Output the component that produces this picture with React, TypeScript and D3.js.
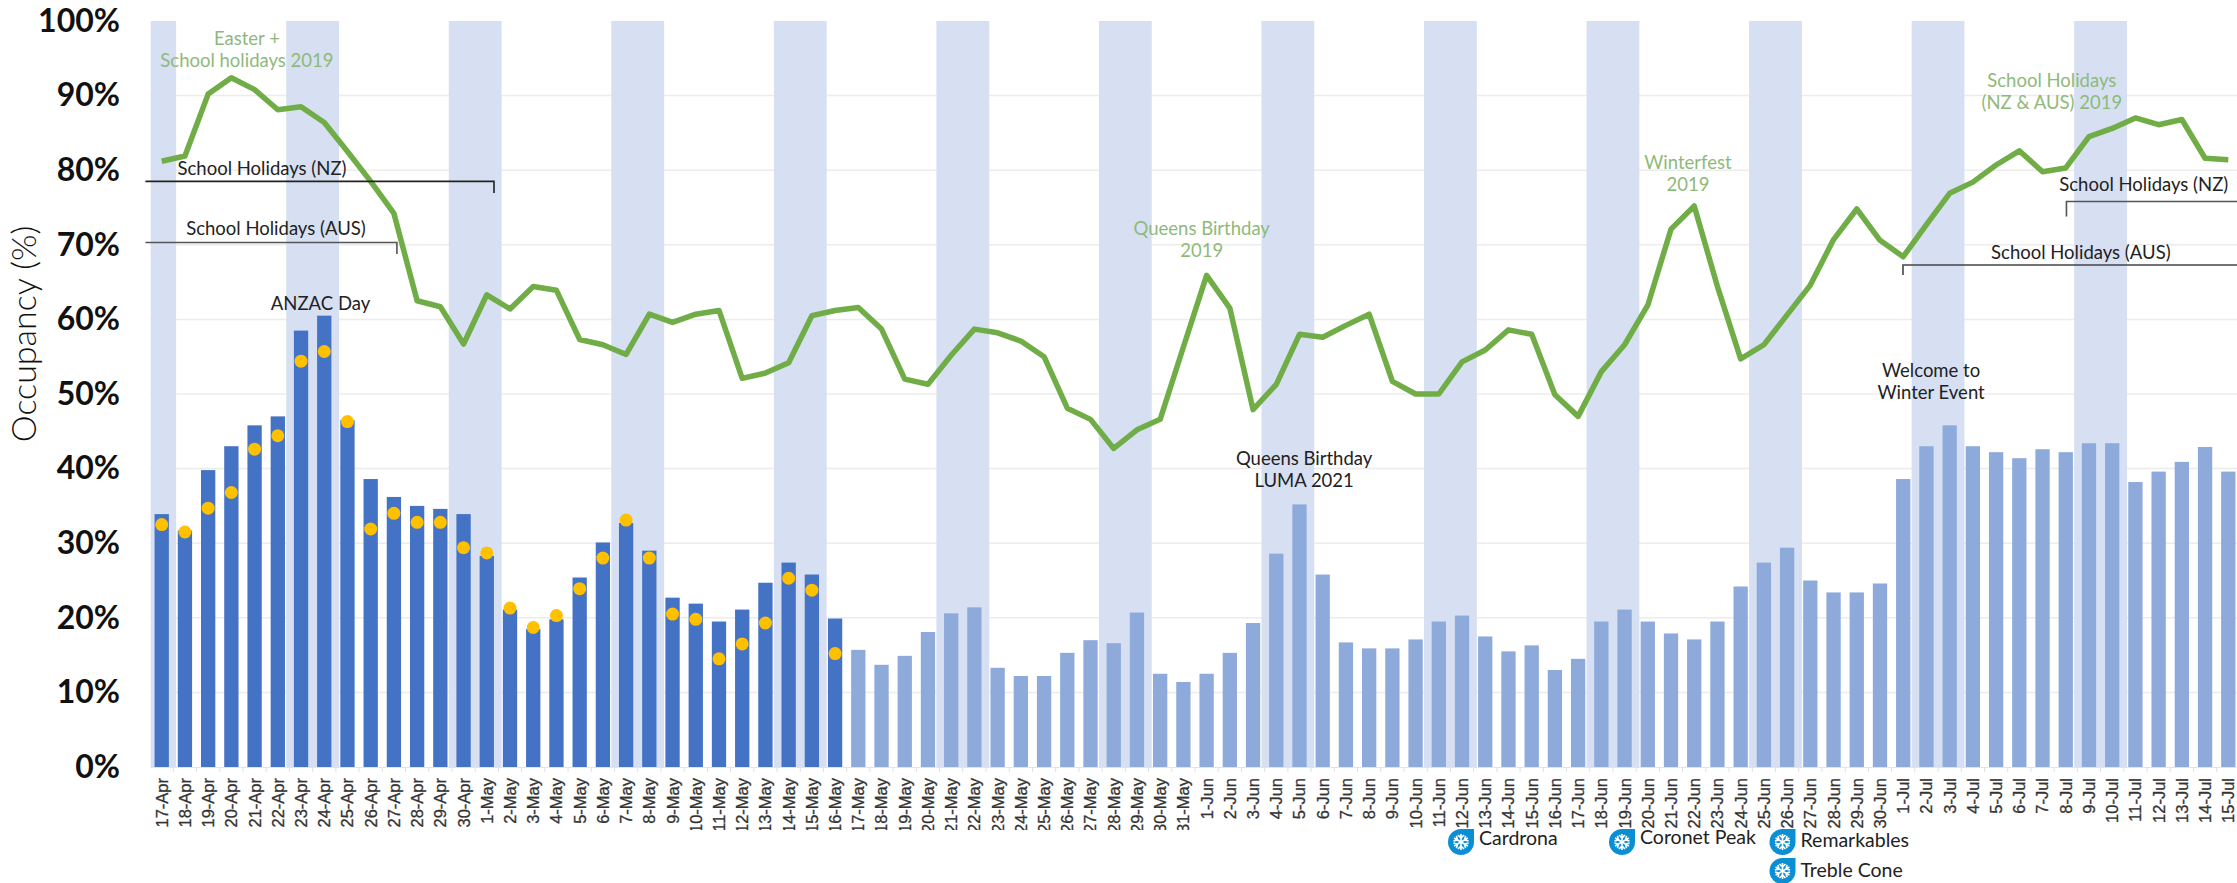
import { useEffect, useRef } from "react";
import * as d3 from "d3";

const WIDTH = 2237;
const HEIGHT = 883;

const MONTHS = [
  { name: "Apr", from: 17, to: 30 },
  { name: "May", from: 1, to: 31 },
  { name: "Jun", from: 1, to: 30 },
  { name: "Jul", from: 1, to: 15 },
];
const days: string[] = MONTHS.flatMap((m) =>
  d3.range(m.from, m.to + 1).map((d) => `${d}-${m.name}`)
);

// bar heights, one per day
const occupancy2021 = [
  33.9, 31.7, 39.8, 43, 45.8, 47, 58.5, 60.5, 46.5, 38.6, 36.2, 35, 34.6, 33.9,
  28.3, 21.1, 18.5, 19.8, 25.4, 30.1, 32.7, 29, 22.7, 21.9, 19.5, 21.1, 24.7, 27.4, 25.8, 19.9,
  15.7, 13.7, 14.9, 18.1, 20.6, 21.4, 13.3, 12.2, 12.2, 15.3, 17, 16.6, 20.7, 12.5, 11.4,
  12.5, 15.3, 19.3, 28.6, 35.2, 25.8, 16.7, 15.9, 15.9, 17.1, 19.5, 20.3, 17.5, 15.5, 16.3,
  13, 14.5, 19.5, 21.1, 19.5, 17.9, 17.1, 19.5, 24.2, 27.4, 29.4, 25, 23.4, 23.4, 24.6,
  38.6, 43, 45.8, 43, 42.2, 41.4, 42.6, 42.2, 43.4, 43.4, 38.2, 39.6, 40.9, 42.9, 39.6,
];
// bars up to this index are actuals (dark), the rest are on the books (light)
const ACTUAL_COUNT = 30;

// yellow dots, only for the actual days
const dotValues = [
  32.5, 31.5, 34.7, 36.8, 42.6, 44.4, 54.4, 55.7, 46.3, 31.9, 34, 32.8, 32.8, 29.4,
  28.7, 21.3, 18.7, 20.3, 23.9, 28, 33.1, 28, 20.5, 19.8, 14.5, 16.5, 19.3, 25.3, 23.7, 15.2,
];

// green line
const occupancy2019 = [
  81.2, 81.9, 90.2, 92.4, 90.8, 88.1, 88.5, 86.4, 82.5, 78.5, 74.2, 62.5, 61.7, 56.7,
  63.3, 61.4, 64.4, 63.9, 57.3, 56.6, 55.3, 60.7, 59.6, 60.7, 61.2, 52.1, 52.8, 54.2, 60.5, 61.2,
  61.6, 58.7, 52, 51.3, 55.2, 58.7, 58.2, 57.1, 55, 48.1, 46.6, 42.7, 45.2, 46.6, 56.3,
  65.9, 61.5, 47.9, 51.3, 58, 57.6, 59.2, 60.7, 51.7, 50, 50, 54.3, 55.9, 58.6, 58,
  49.9, 47, 53, 56.6, 61.9, 72.1, 75.2, 64.4, 54.7, 56.6, 60.6, 64.6, 70.7, 74.8, 70.6,
  68.4, 72.7, 76.9, 78.4, 80.7, 82.6, 79.8, 80.3, 84.5, 85.6, 87, 86.1, 86.8, 81.6, 81.4,
];

const yTicks = [0, 10, 20, 30, 40, 50, 60, 70, 80, 90, 100];
const gridTicks = [10, 20, 30, 40, 50, 60, 70, 80, 90];

// shaded weekends, named by their first day
const weekendStarts = [
  "23-Apr", "30-Apr", "7-May", "14-May", "21-May", "28-May",
  "4-Jun", "11-Jun", "18-Jun", "25-Jun", "2-Jul", "9-Jul",
];

// notes sit in chart units: day index across, occupancy up
const greenNotes = [
  { lines: ["Easter +", "School holidays 2019"], day: 3.67, occ: 97.6 },
  { lines: ["Queens Birthday", "2019"], day: 44.79, occ: 72.2 },
  { lines: ["Winterfest", "2019"], day: 65.73, occ: 81 },
  { lines: ["School Holidays", "(NZ & AUS)  2019"], day: 81.4, occ: 92 },
];
const darkNotes = [
  { lines: ["School Holidays (NZ)"], day: 4.32, occ: 80.2 },
  { lines: ["School Holidays (AUS)"], day: 4.92, occ: 72.2 },
  { lines: ["ANZAC Day"], day: 6.84, occ: 62.1 },
  { lines: ["Queens Birthday", "LUMA 2021"], day: 49.2, occ: 41.3 },
  { lines: ["Welcome to", "Winter Event"], day: 76.2, occ: 53.1 },
  { lines: ["School Holidays (NZ)"], day: 85.36, occ: 78.1 },
  { lines: ["School Holidays (AUS)"], day: 82.65, occ: 68.9 },
];

const holidayBrackets = [
  { from: -0.7, to: 14.31, occ: 78.5, tickAt: "end", tick: 11.5, color: "#222" },
  { from: -0.7, to: 10.13, occ: 70.3, tickAt: "end", tick: 11.5, color: "#555" },
  { from: 82.03, to: 91, occ: 75.8, tickAt: "start", tick: 15, color: "#555" },
  { from: 74.99, to: 91, occ: 67.3, tickAt: "start", tick: 10, color: "#444" },
];

const skiFields = [
  { name: "Cardrona", x: 1461, y: 842, textY: 838 },
  { name: "Coronet Peak", x: 1622, y: 842, textY: 837 },
  { name: "Remarkables", x: 1782.5, y: 842, textY: 840 },
  { name: "Treble Cone", x: 1782.5, y: 871, textY: 870 },
];

const COLORS = {
  actual: "#4472c4",
  booked: "#8eaadb",
  band: "#d6e0f2",
  grid: "#ececec",
  line: "#70ad47",
  dot: "#ffc000",
  greenText: "#8fb97b",
  darkText: "#222",
  icon: "#0b8fd4",
};

const NOTE_FONT = "Lato, 'Open Sans', sans-serif";
const NOTE_LINE = 21.8;

export default function App() {
  const svgRef = useRef<SVGSVGElement>(null);

  useEffect(() => {
    if (!svgRef.current) return;
    const svg = d3.select(svgRef.current);
    svg.selectAll("*").remove();

    const x = d3.scaleBand().domain(days).range([150.1, 2239.9]).paddingInner(0.384).paddingOuter(0.192);
    const y = d3.scaleLinear().domain([0, 100]).range([767, 21]);
    const step = x.step();
    const center = (d: string) => (x(d) ?? 0) + x.bandwidth() / 2;
    const dayX = d3.scaleLinear().domain([0, days.length - 1]).range([center(days[0]), center(days[days.length - 1])]);

    // gridlines first, bands go over them
    svg.append("g")
      .selectAll("line")
      .data(gridTicks)
      .join("line")
      .attr("x1", x.range()[0])
      .attr("x2", WIDTH)
      .attr("y1", (d) => y(d))
      .attr("y2", (d) => y(d))
      .attr("stroke", COLORS.grid)
      .attr("stroke-width", 1.5);

    const bands = svg.append("g");
    bands.append("rect")
      .attr("x", x.range()[0] + 0.6)
      .attr("y", y(100))
      .attr("width", center(days[0]) + 14.4 - x.range()[0] - 0.6)
      .attr("height", y(0) - y(100))
      .attr("fill", COLORS.band);
    bands.selectAll("rect.weekend")
      .data(weekendStarts)
      .join("rect")
      .attr("class", "weekend")
      .attr("x", (d) => center(d) - 14.8)
      .attr("y", y(100))
      .attr("width", step + 29.6)
      .attr("height", y(0) - y(100))
      .attr("fill", COLORS.band);

    // bars
    svg.append("g")
      .selectAll("rect")
      .data(occupancy2021)
      .join("rect")
      .attr("x", (_, i) => x(days[i]) ?? 0)
      .attr("y", (d) => y(d))
      .attr("width", x.bandwidth())
      .attr("height", (d) => y(0) - y(d))
      .attr("fill", (_, i) => (i < ACTUAL_COUNT ? COLORS.actual : COLORS.booked));

    // x axis, labels clipped the way the screenshot cuts them
    svg.append("clipPath")
      .attr("id", "tick-clip")
      .append("rect")
      .attr("x", 0)
      .attr("y", -2)
      .attr("width", WIDTH)
      .attr("height", 65);

    const xAxis = svg.append("g")
      .attr("transform", `translate(0,${y(0)})`)
      .attr("clip-path", "url(#tick-clip)")
      .call(d3.axisBottom(x).tickSize(5).tickSizeOuter(0));
    xAxis.select(".domain").attr("stroke", "#e4e4e4").attr("stroke-width", 1);
    xAxis.selectAll(".tick line").attr("x1", step / 2).attr("x2", step / 2).attr("stroke", "#e0e0e0");
    xAxis.selectAll(".tick text")
      .attr("transform", "rotate(-90)")
      .attr("text-anchor", "end")
      .attr("x", -11)
      .attr("y", 0)
      .attr("dy", "0.36em")
      .attr("font-family", "'Liberation Sans', Arial, sans-serif")
      .attr("font-size", 16.5)
      .attr("fill", "#333")
      .attr("stroke", "#333")
      .attr("stroke-width", 0.3);

    // y axis
    const yAxis = svg.append("g")
      .attr("transform", "translate(120,0)")
      .call(d3.axisLeft(y).tickValues(yTicks).tickSize(0).tickPadding(0).tickFormat((d) => `${d}%`));
    yAxis.select(".domain").remove();
    yAxis.selectAll(".tick text")
      .attr("font-family", "Lato, sans-serif")
      .attr("font-weight", 700)
      .attr("font-size", 32)
      .attr("fill", "#111");

    svg.append("text")
      .attr("transform", "translate(24,334) rotate(-90)")
      .attr("text-anchor", "middle")
      .attr("dy", "0.35em")
      .attr("font-family", NOTE_FONT)
      .attr("font-weight", 300)
      .attr("font-size", 34)
      .attr("fill", "#111")
      .text("Occupancy (%)");

    // 2019 line
    const line = d3.line<number>()
      .x((_, i) => center(days[i]))
      .y((d) => y(d));
    svg.append("path")
      .datum(occupancy2019)
      .attr("d", line)
      .attr("fill", "none")
      .attr("stroke", COLORS.line)
      .attr("stroke-width", 5.5)
      .attr("stroke-linejoin", "round");

    // dots
    svg.append("g")
      .selectAll("circle")
      .data(dotValues)
      .join("circle")
      .attr("cx", (_, i) => center(days[i]))
      .attr("cy", (d) => y(d))
      .attr("r", 6.5)
      .attr("fill", COLORS.dot);

    // holiday brackets
    const bracket = svg.append("g").attr("fill", "none");
    holidayBrackets.forEach((b) => {
      const x0 = dayX(b.from);
      const x1 = dayX(b.to);
      const yy = y(b.occ);
      const d = b.tickAt === "end"
        ? `M${x0},${yy}H${x1}V${yy + b.tick}`
        : `M${x1},${yy}H${x0}V${yy + b.tick}`;
      bracket.append("path").attr("d", d).attr("stroke", b.color).attr("stroke-width", 1.6);
    });

    // notes
    const drawNotes = (notes: typeof greenNotes, fill: string) => {
      notes.forEach((n) => {
        n.lines.forEach((t, i) => {
          svg.append("text")
            .attr("x", dayX(n.day))
            .attr("y", y(n.occ) + i * NOTE_LINE)
            .attr("dy", "0.35em")
            .attr("text-anchor", "middle")
            .attr("font-family", NOTE_FONT)
            .attr("font-weight", 400)
            .attr("font-size", 18.5)
            .attr("fill", fill)
            .text(t);
        });
      });
    };
    drawNotes(greenNotes, COLORS.greenText);
    drawNotes(darkNotes, COLORS.darkText);

    // ski field keys
    const R = 13;
    skiFields.forEach((f) => {
      const g = svg.append("g").attr("transform", `translate(${f.x},${f.y})`);
      g.append("path")
        .attr("d", `M0,${-R}H${R}V0A${R},${R} 0 1 1 0,${-R}Z`)
        .attr("fill", COLORS.icon);
      d3.range(0, 180, 60).forEach((a) => {
        g.append("path")
          .attr("transform", `rotate(${a})`)
          .attr("d", "M0,-8V8M-3,-7L0,-4L3,-7M-3,7L0,4L3,7")
          .attr("fill", "none")
          .attr("stroke", "#fff")
          .attr("stroke-width", 1.6);
      });
      svg.append("text")
        .attr("x", f.x + 18)
        .attr("y", f.textY)
        .attr("dy", "0.35em")
        .attr("font-family", NOTE_FONT)
        .attr("font-weight", 400)
        .attr("font-size", 19.5)
        .attr("fill", COLORS.darkText)
        .text(f.name);
    });
  }, []);

  return (
    <svg
      ref={svgRef}
      width={WIDTH}
      height={HEIGHT}
      style={{ position: "absolute", left: 0, top: 0, display: "block", background: "#fff" }}
    />
  );
}
